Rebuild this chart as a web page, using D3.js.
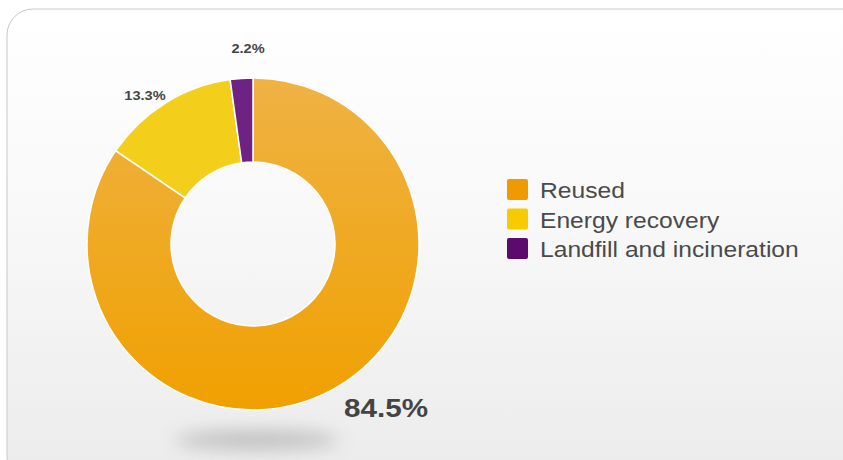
<!DOCTYPE html>
<html>
<head>
<meta charset="utf-8">
<script src="https://cdn.jsdelivr.net/npm/d3@7"></script>
<style>
  body { margin: 0; background: #fff; }
  svg { display: block; font-family: "Liberation Sans", Arial, sans-serif; }
</style>
</head>
<body>
<div id="plot"></div>
<script>
// Data
const categories = ["Reused", "Energy recovery", "Landfill and incineration"];
const shares = [84.5, 13.3, 2.2];
const sliceLabels = ["84.5%", "13.3%", "2.2%"];
const colors = ["#efa72a", "#f3cf1c", "#6e2384"];
const legendColors = ["#ee9a00", "#f6cc00", "#5c0a6c"];

const width = 843, height = 460;

const svg = d3.select("#plot").append("svg")
    .attr("width", width)
    .attr("height", height);

const defs = svg.append("defs");

// panel background gradient
const bg = defs.append("linearGradient")
    .attr("id", "bg").attr("x1", 0).attr("y1", 0).attr("x2", 0).attr("y2", 1);
bg.append("stop").attr("offset", "0%").attr("stop-color", "#ffffff");
bg.append("stop").attr("offset", "45%").attr("stop-color", "#f8f8f8");
bg.append("stop").attr("offset", "100%").attr("stop-color", "#ebebeb");

// gradient for the big slice
const og = defs.append("linearGradient")
    .attr("id", "og").attr("x1", 0).attr("y1", 0).attr("x2", 0).attr("y2", 1);
og.append("stop").attr("offset", "0%").attr("stop-color", "#efb244");
og.append("stop").attr("offset", "100%").attr("stop-color", "#f0a000");

const shadowBlur = defs.append("filter").attr("id", "blur")
    .attr("x", "-50%").attr("y", "-200%").attr("width", "200%").attr("height", "500%");
shadowBlur.append("feGaussianBlur").attr("stdDeviation", 9);

// Panel
svg.append("rect")
    .attr("x", 7).attr("y", 9)
    .attr("width", 870).attr("height", 475)
    .attr("rx", 26).attr("ry", 26)
    .attr("fill", "url(#bg)")
    .attr("stroke", "#c8c8c8")
    .attr("stroke-width", 1);

const cx = 253, cy = 244, outerR = 166, innerR = 82;

// shadow under donut
svg.append("ellipse")
    .attr("cx", cx + 4).attr("cy", 440)
    .attr("rx", 82).attr("ry", 9)
    .attr("fill", "#b4b4b4")
    .attr("opacity", 0.85)
    .attr("filter", "url(#blur)");

const pie = d3.pie().sort(null).value(d => d)(shares);
const arc = d3.arc().innerRadius(innerR).outerRadius(outerR);

const g = svg.append("g").attr("transform", `translate(${cx},${cy})`);

g.selectAll("path.slice")
    .data(pie)
    .enter()
    .append("path")
    .attr("class", "slice")
    .attr("d", arc)
    .attr("fill", (d, i) => i === 0 ? "url(#og)" : colors[i])
    .attr("stroke", "#ffffff")
    .attr("stroke-width", 1.5);

// slice labels (glyphs stretched a little to match the wide original type)
const labelPos = [
    { x: 386, y: 417, size: 26, sx: 1.14 },
    { x: 145, y: 100, size: 13, sx: 1.12 },
    { x: 248, y: 53, size: 13, sx: 1.12 }
];
svg.selectAll("text.slabel")
    .data(sliceLabels)
    .enter()
    .append("text")
    .attr("class", "slabel")
    .attr("transform", (d, i) => `translate(${labelPos[i].x},${labelPos[i].y}) scale(${labelPos[i].sx},1)`)
    .attr("text-anchor", "middle")
    .attr("font-weight", "bold")
    .attr("font-size", (d, i) => labelPos[i].size + "px")
    .attr("fill", "#444")
    .text(d => d);

// Legend
const legend = svg.append("g").attr("transform", "translate(507,179)");
const rows = legend.selectAll("g")
    .data(categories)
    .enter()
    .append("g")
    .attr("transform", (d, i) => `translate(0,${i * 29.5})`);

rows.append("rect")
    .attr("width", 21).attr("height", 21)
    .attr("rx", 2)
    .attr("fill", (d, i) => legendColors[i]);

rows.append("text")
    .attr("transform", "translate(33,19) scale(1.12,1)")
    .attr("font-size", "22px")
    .attr("fill", "#4a4a4a")
    .text(d => d);
</script>
</body>
</html>
